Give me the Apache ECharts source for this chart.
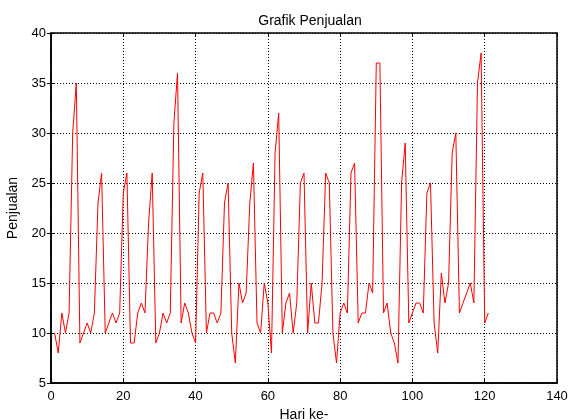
<!DOCTYPE html>
<html>
<head>
<meta charset="utf-8">
<script src="https://cdn.jsdelivr.net/npm/echarts@6/dist/echarts.min.js"></script>
<style>
    html, body { margin: 0; padding: 0; background: #fff; }
    #chart { width: 570px; height: 420px; }
</style>
</head>
<body>
<div id="chart"></div>
<script>
// penjualan harian, hari ke-1 .. ke-121
const penjualan = [
    10, 8, 12, 10, 12, 30, 35, 9, 10, 11, 10, 12, 23, 26, 10, 11, 12, 11, 12, 24,
    26, 9, 9, 12, 13, 12, 21, 26, 9, 10, 12, 11, 12, 31, 36, 11, 13, 12, 10, 9,
    24, 26, 10, 12, 12, 11, 12, 23, 25, 10, 7, 15, 13, 14, 23, 27, 11, 10, 15, 13, 8,
    28, 32, 10, 13, 14, 10, 13, 25, 26, 10, 15, 11, 11, 15, 26, 25, 10, 7, 12, 13,
    12, 26, 27, 11, 12, 12, 15, 14, 37, 37, 12, 13, 10, 9, 7, 25, 29,
    11, 12, 13, 13, 12, 24, 25, 11, 8, 16, 13, 15, 28, 30, 12, 13, 14, 15, 13, 35, 38, 11, 12
];
const hari = penjualan.map((d, i) => i + 1);

const fontFamily = 'Liberation Sans, Arial, sans-serif';
const gridLine = { show: true, lineStyle: { color: '#000', type: [1, 2], width: 1 } };
const tickIn = { show: true, inside: true, length: 4, lineStyle: { color: '#000' } };
const axisLabel = { color: '#000', fontSize: 13, fontFamily: fontFamily };

const chart = echarts.init(document.getElementById('chart'), null, { renderer: 'canvas' });

chart.setOption({
    backgroundColor: '#fff',
    animation: false,
    title: {
        text: 'Grafik Penjualan',
        left: 305,
        top: 9,
        textAlign: 'center',
        textStyle: { color: '#000', fontSize: 14, fontWeight: 'normal', fontFamily: fontFamily }
    },
    grid: {
        left: 51, right: 13, top: 33, bottom: 37,
        outerBoundsMode: 'none',
        show: true, borderColor: '#000', borderWidth: 1.5
    },
    xAxis: [{
        type: 'value',
        min: 0,
        max: 140,
        interval: 20,
        name: 'Hari ke-',
        nameLocation: 'middle',
        nameGap: 21,
        nameTextStyle: { color: '#000', fontSize: 14, fontFamily: fontFamily },
        axisLine: { show: true, lineStyle: { color: '#000', width: 1.5 } },
        axisTick: tickIn,
        axisLabel: Object.assign({ margin: 7 }, axisLabel),
        splitLine: gridLine
    }, {
        type: 'value',
        position: 'top',
        min: 0,
        max: 140,
        interval: 20,
        axisLine: { show: false },
        axisTick: tickIn,
        axisLabel: { show: false },
        splitLine: { show: false }
    }],
    yAxis: [{
        type: 'value',
        min: 5,
        max: 40,
        interval: 5,
        name: 'Penjualan',
        nameLocation: 'middle',
        nameGap: 31,
        nameTextStyle: { color: '#000', fontSize: 14, fontFamily: fontFamily },
        axisLine: { show: true, lineStyle: { color: '#000', width: 1.5 } },
        axisTick: tickIn,
        axisLabel: Object.assign({ margin: 5 }, axisLabel),
        splitLine: gridLine
    }, {
        type: 'value',
        position: 'right',
        min: 5,
        max: 40,
        interval: 5,
        axisLine: { show: false },
        axisTick: tickIn,
        axisLabel: { show: false },
        splitLine: { show: false }
    }],
    series: [{
        type: 'line',
        data: hari.map((h, i) => [h, penjualan[i]]),
        showSymbol: false,
        lineStyle: { color: '#ff0000', width: 1 },
        itemStyle: { color: '#ff0000' }
    }]
});
</script>
</body>
</html>
